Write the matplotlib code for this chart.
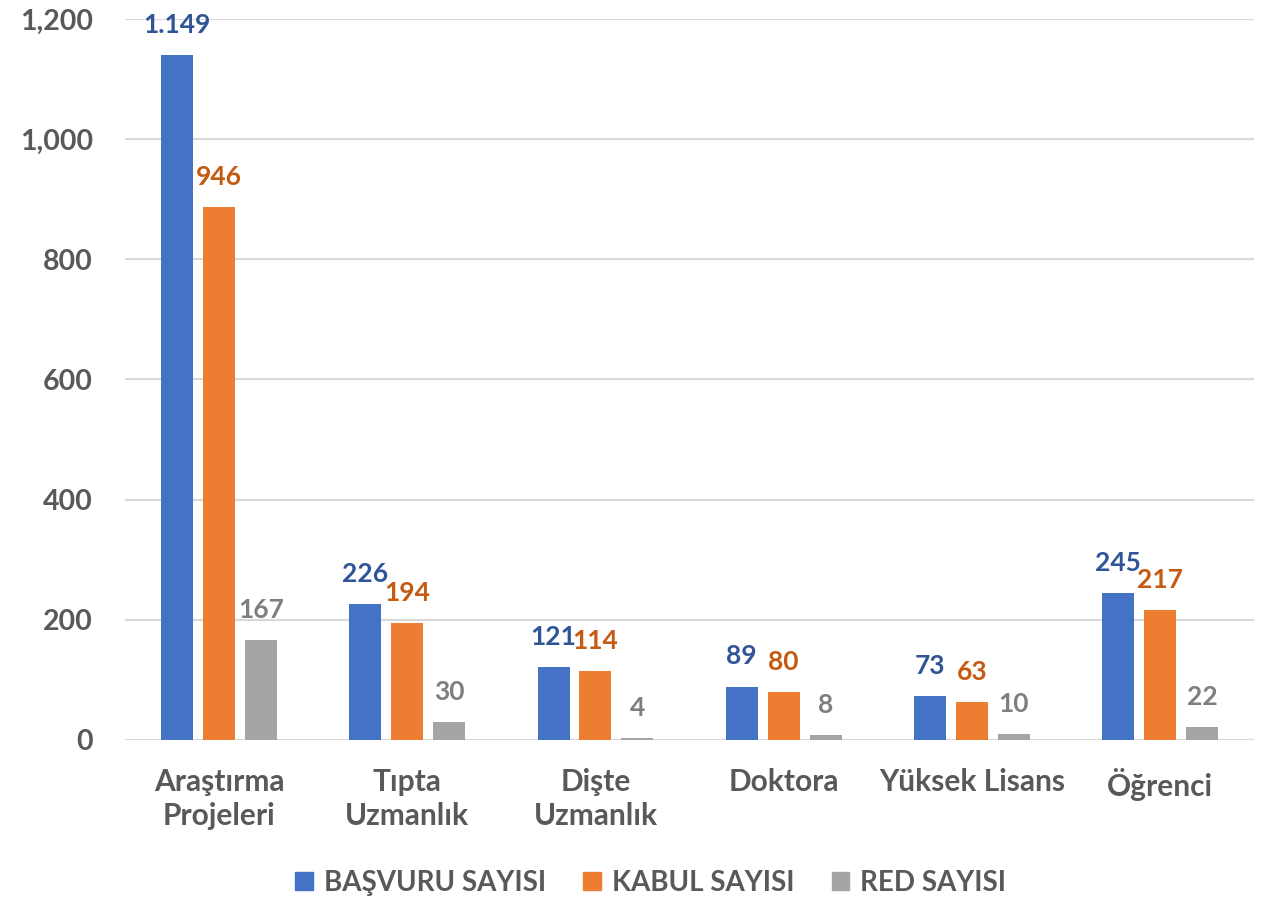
import matplotlib
matplotlib.use("Agg")
import matplotlib.pyplot as plt
import numpy as np
from matplotlib.patches import Patch

categories = ["Araştırma\nProjeleri", "Tıpta\nUzmanlık", "Dişte\nUzmanlık", "Doktora", "Yüksek Lisans", "Öğrenci"]
series_names = ["BAŞVURU SAYISI", "KABUL SAYISI", "RED SAYISI"]
basvuru = [1140, 226, 121, 89, 73, 245]
kabul = [887, 194, 114, 80, 63, 217]
red = [167, 30, 4, 8, 10, 22]
basvuru_labels = ["1.149", "226", "121", "89", "73", "245"]
kabul_labels = ["946", "194", "114", "80", "63", "217"]
red_labels = ["167", "30", "4", "8", "10", "22"]
yticks = [0, 200, 400, 600, 800, 1000, 1200]
ytick_labels = ["0", "200", "400", "600", "800", "1,000", "1,200"]

bar_colors = ["#4472C4", "#ED7D31", "#A5A5A5"]
label_colors = ["#2F5597", "#C55A11", "#7F7F7F"]
txt_color = "#595959"

plt.rcParams['font.family'] = ['Lato', 'DejaVu Sans']
plt.rcParams['font.weight'] = 'bold'

fig = plt.figure(figsize=(12.66, 9), dpi=100)
ax = fig.add_axes([0.0987, 0.1778, 0.892, 0.8011])

x = np.arange(len(categories))
width = 0.17
offset = 0.223
fs = 19
for i, (vals, labs) in enumerate([(basvuru, basvuru_labels), (kabul, kabul_labels), (red, red_labels)]):
    pos = x + (i - 1) * offset
    ax.bar(pos, vals, width=width, color=bar_colors[i], zorder=3, label=series_names[i])
    for p, v, l in zip(pos, vals, labs):
        ax.annotate(l, xy=(p, v), xytext=(0, 13), textcoords="offset points",
                    ha="center", va="bottom", fontsize=fs, fontweight="bold",
                    color=label_colors[i])

ax.set_xlim(-0.5, 5.5)
ax.set_ylim(0, 1200)
ax.set_yticks(yticks)
ax.set_yticklabels(ytick_labels)
ax.set_xticks(x)
ax.set_xticklabels(categories, linespacing=1.25)
ax.tick_params(axis='y', length=0, pad=23, labelsize=20.5, labelcolor=txt_color)
ax.tick_params(axis='x', length=0, pad=20, labelsize=21.5, labelcolor=txt_color)
for lab in ax.get_xticklabels() + ax.get_yticklabels():
    lab.set_fontweight("bold")
ax.grid(axis='y', color="#D9D9D9", linewidth=1.5, zorder=0)
for s in ax.spines.values():
    s.set_visible(False)

handles = [Patch(color=c) for c in bar_colors]
leg = fig.legend(handles, series_names, loc="center", bbox_to_anchor=(0.514, 0.019),
                 ncol=3, frameon=False, handlelength=0.62, handleheight=0.62,
                 columnspacing=1.35, handletextpad=0.4, labelcolor=txt_color,
                 prop={'weight': 'bold', 'size': 20})

fig.savefig("out.png", dpi=100)
